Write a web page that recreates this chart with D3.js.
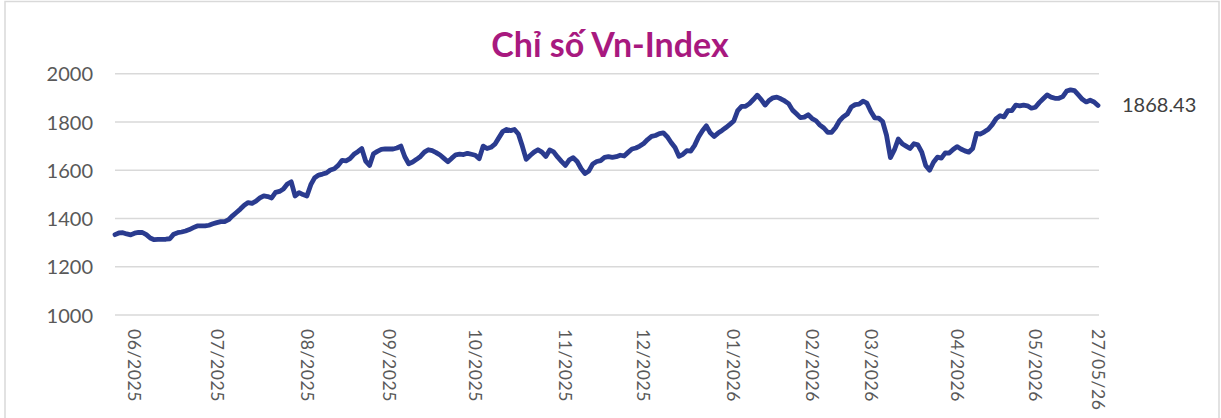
<!DOCTYPE html>
<html>
<head>
<meta charset="utf-8">
<script src="https://cdn.jsdelivr.net/npm/d3@7"></script>
<style>
  html, body { margin: 0; padding: 0; background: #fff; }
  svg { display: block; }
</style>
</head>
<body>
<svg id="chart" width="1221" height="418"></svg>
<script>
// ---- data ----
const title = "Chỉ số Vn-Index";
// daily closing values of VN-Index (trading days)
const values = [
  1333,1340,1341,1336,1332,1339,1342,1342,1333,1319,
  1312,1313,1313,1314,1316,1335,1341,1344,1348,1354,
  1362,1369,1369,1369,1372,1378,1383,1387,1387,1395,
  1411,1425,1439,1455,1466,1463,1472,1485,1494,1491,
  1485,1508,1512,1522,1543,1552,1493,1507,1499,1493,
  1540,1569,1580,1584,1589,1601,1606,1620,1641,1639,
  1648,1666,1677,1690,1638,1620,1668,1678,1686,1688,
  1688,1688,1692,1700,1656,1627,1634,1645,1657,1675,
  1685,1681,1673,1663,1649,1635,1650,1664,1667,1665,
  1670,1666,1662,1648,1700,1690,1695,1708,1734,1760,
  1769,1764,1769,1750,1700,1645,1661,1675,1685,1675,
  1657,1684,1676,1655,1637,1620,1643,1652,1636,1607,
  1586,1597,1626,1636,1640,1653,1656,1653,1656,1662,
  1659,1674,1688,1692,1700,1711,1727,1740,1744,1752,
  1755,1739,1715,1694,1658,1666,1681,1679,1703,1738,
  1764,1784,1755,1740,1754,1765,1777,1790,1804,1847,
  1865,1865,1876,1893,1911,1893,1870,1889,1900,1903,
  1896,1887,1876,1849,1834,1818,1820,1830,1814,1805,
  1787,1775,1757,1757,1777,1805,1822,1833,1862,1872,
  1874,1886,1878,1843,1817,1816,1802,1745,1652,1684,
  1729,1710,1700,1690,1710,1705,1675,1620,1600,1633,
  1654,1650,1672,1671,1686,1698,1688,1680,1675,1690,
  1753,1750,1759,1770,1789,1814,1826,1821,1847,1847,
  1870,1867,1870,1867,1857,1861,1880,1896,1912,1903,
  1898,1898,1905,1928,1933,1930,1912,1894,1883,1890,
  1883,1868.43
];
// x-axis tick labels and the trading-day index they sit on
const tickLabels  = ["06/2025","07/2025","08/2025","09/2025","10/2025","11/2025","12/2025",
                     "01/2026","02/2026","03/2026","04/2026","05/2026","27/05/26"];
const tickIndices = [5, 26, 49, 70, 92, 115, 135, 158, 178, 193, 215, 235, 251];
const yTicks = [1000, 1200, 1400, 1600, 1800, 2000];
const lastLabel = "1868.43";

// ---- drawing ----
const svg = d3.select("#chart");
const W = 1221, H = 418;

// outer frame
svg.append("rect")
  .attr("x", 5).attr("y", 1.5)
  .attr("width", 1214).attr("height", H + 10)
  .attr("fill", "#fff").attr("stroke", "#d9d9d9").attr("stroke-width", 1.5);

const x = d3.scaleLinear().domain([0, values.length - 1]).range([115, 1098]);
const y = d3.scaleLinear().domain([1000, 2000]).range([315, 73.7]);

// gridlines
svg.append("g")
  .selectAll("line").data(yTicks).join("line")
  .attr("x1", 115).attr("x2", 1099)
  .attr("y1", d => y(d)).attr("y2", d => y(d))
  .attr("stroke", "#d9d9d9").attr("stroke-width", 1.6);

// y axis labels
const yAxis = d3.axisLeft(y).tickValues(yTicks).tickFormat(d3.format("d")).tickSize(0).tickPadding(0);
const gy = svg.append("g").attr("transform", "translate(93,0)").call(yAxis);
gy.select(".domain").remove();
gy.selectAll("text")
  .attr("font-family", "Lato, 'Open Sans', sans-serif")
  .attr("font-size", "20px")
  .attr("fill", "#595959")
  .attr("dy", "0.36em");

// x axis labels (rotated, reading downward)
const gx = svg.append("g");
gx.selectAll("text").data(tickLabels).join("text")
  .attr("transform", (d, i) => `translate(${x(tickIndices[i])},329) rotate(90)`)
  .attr("dy", "0.36em")
  .attr("text-anchor", "start")
  .attr("font-family", "Lato, 'Open Sans', sans-serif")
  .attr("font-size", "17.5px")
  .attr("letter-spacing", "0.6px")
  .attr("fill", "#595959")
  .text(d => d);

// line
const line = d3.line()
  .x((d, i) => x(i))
  .y(d => y(d));
svg.append("path")
  .datum(values)
  .attr("d", line)
  .attr("fill", "none")
  .attr("stroke", "#2a3b8f")
  .attr("stroke-width", 4.8)
  .attr("stroke-linejoin", "round")
  .attr("stroke-linecap", "round");

// last value label
svg.append("text")
  .attr("x", 1122)
  .attr("y", y(values[values.length - 1]) + 7)
  .attr("font-family", "Lato, 'Open Sans', sans-serif")
  .attr("font-size", "20px")
  .attr("fill", "#404040")
  .text(lastLabel);

// title
svg.append("text")
  .attr("x", 610)
  .attr("y", 56.5)
  .attr("text-anchor", "middle")
  .attr("font-family", "Lato, 'Open Sans', sans-serif")
  .attr("font-weight", "bold")
  .attr("font-size", "34px")
  .attr("fill", "#a8197f")
  .text(title);
</script>
</body>
</html>
